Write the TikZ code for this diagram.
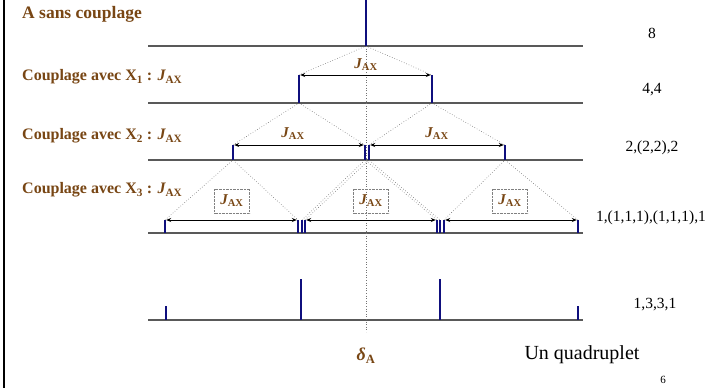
\documentclass[tikz,border=0pt]{standalone}
\usepackage{fontspec}
\setmainfont{Liberation Serif}
\usetikzlibrary{arrows.meta}

\definecolor{labelbrown}{RGB}{120,70,20}
\definecolor{peakblue}{RGB}{15,15,125}
\newcommand{\Jax}{{\itshape J}\textsubscript{AX}}

\begin{document}
\begin{tikzpicture}[x=1pt, y=-1pt,
    base/.style={draw=black!65, line width=1.3pt},
    peak/.style={draw=peakblue, line width=2.2pt},
    split/.style={draw=black!55, dotted, line width=0.6pt},
    coupling/.style={draw=black, line width=0.8pt, shorten <=1.2pt, shorten >=1.2pt,
                     {Stealth[length=5pt,width=4pt]}-{Stealth[length=5pt,width=4pt]}},
    lbl/.style={text=labelbrown, font=\fontsize{16}{18}\selectfont\bfseries,
                inner sep=0pt, anchor=west},
    jlbl/.style={text=labelbrown, font=\fontsize{15}{17}\selectfont\bfseries, inner sep=1pt},
    jbox/.style={jlbl, draw=black!50, densely dotted, minimum width=35pt, minimum height=24pt},
    count/.style={font=\fontsize{15.5}{17}\selectfont, inner sep=0pt}]
  \useasboundingbox (0,0) rectangle (716,388);
  \draw[line width=2.5pt] (4,0) -- (4,388);

  % baselines of the five levels
  \foreach \y in {46,103,160,233,320}
    \draw[base] (148,\y) -- (583,\y);

  % peaks: top and foot of each line
  \coordinate (t1) at (366,0);   \coordinate (b1) at (366,46);
  \foreach \x/\n in {299/a,432/b} {
    \coordinate (t2\n) at (\x,75); \coordinate (b2\n) at (\x,103);
  }
  \foreach \x/\n in {233/a,365/b,369/c,505/d} {
    \coordinate (t3\n) at (\x,145); \coordinate (b3\n) at (\x,160);
  }
  \foreach \x/\n in {165/a,298/b,302/c,305/d,437/e,440/f,444/g,578/h} {
    \coordinate (t4\n) at (\x,220); \coordinate (b4\n) at (\x,233);
  }
  \foreach \x/\h/\n in {166/306/a,301/279/b,440/279/c,578/306/d} {
    \coordinate (t5\n) at (\x,\h); \coordinate (b5\n) at (\x,320);
  }

  % chemical shift
  \draw[split] (b1) -- (366,332) coordinate (dA);

  % splitting trees
  \draw[split] (t2a) -- (b1) -- (t2b);
  \draw[split] (t3a) -- (b2a) -- (t3b);
  \draw[split] (t3c) -- (b2b) -- (t3d);
  \draw[split] (t4a) -- (b3a) -- (t4b);
  \draw[split] (t4c) -- (b3b) -- (t4e);
  \draw[split] (t4d) -- (b3c) -- (t4f);
  \draw[split] (t4g) -- (b3d) -- (t4h);

  \draw[coupling] (t2a) -- (t2b);
  \draw[coupling] (t3a) -- (t3b);
  \draw[coupling] (t3c) -- (t3d);
  \draw[coupling] (t4a) -- (t4b);
  \draw[coupling] (t4d) -- (t4e);
  \draw[coupling] (t4g) -- (t4h);

  \draw[peak] (t1) -- (b1);
  \foreach \n in {a,b} \draw[peak] (t2\n) -- (b2\n);
  \foreach \n in {a,b,c,d} \draw[peak] (t3\n) -- (b3\n);
  \foreach \n in {a,b,c,d,e,f,g,h} \draw[peak] (t4\n) -- (b4\n);
  \foreach \n in {a,b,c,d} \draw[peak] (t5\n) -- (b5\n);

  % coupling constants
  \node[jlbl] (j1) at (366,65) {\Jax};
  \node[jlbl] (j2a) at (293,134) {\Jax};
  \node[jlbl] (j2b) at (437,134) {\Jax};
  \node[jbox] (j3a) at (232,201) {\Jax};
  \node[jbox] (j3b) at (371,201) {\Jax};
  \node[jbox] (j3c) at (510,201) {\Jax};

  % level titles
  \node[lbl, font=\fontsize{17.5}{20}\selectfont\bfseries] (lvl0) at (22,14) {A sans couplage};
  \node[lbl] (lvl1) at (22,77) {Couplage avec X\textsubscript{1} : \Jax};
  \node[lbl] (lvl2) at (22,136) {Couplage avec X\textsubscript{2} : \Jax};
  \node[lbl] (lvl3) at (22,190) {Couplage avec X\textsubscript{3} : \Jax};

  % intensities
  \node[count] (n0) at (652,33) {8};
  \node[count] (n1) at (652,90) {4,4};
  \node[count] (n2) at (652,148) {2,(2,2),2};
  \node[count] (n3) at (651,218) {1,(1,1,1),(1,1,1),1};
  \node[count] (n4) at (655,305) {1,3,3,1};

  \node[text=labelbrown, font=\fontsize{18}{20}\selectfont\bfseries, inner sep=0pt]
    (delta) at (366,356) {{\itshape δ}\textsubscript{A}};
  \node[font=\fontsize{20}{22}\selectfont, inner sep=0pt] (quad) at (582,355) {Un quadruplet};
  \node[font=\fontsize{11}{12}\selectfont, inner sep=0pt] (page) at (663,380) {6};
\end{tikzpicture}
\end{document}
